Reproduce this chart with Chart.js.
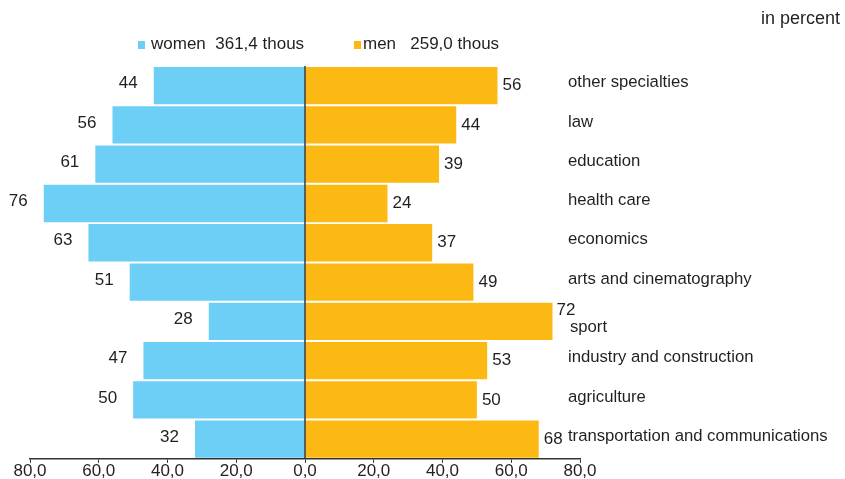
<!DOCTYPE html>
<html>
<head>
<meta charset="utf-8">
<script src="https://cdn.jsdelivr.net/npm/chart.js@4"></script>
<style>
  body { margin: 0; background: #fff; }
  #wrap { width: 845px; height: 479px; }
</style>
</head>
<body>
<div id="wrap"><canvas id="chart" width="845" height="479"></canvas></div>
<script>
// dados
const categories = ["other specialties", "law", "education", "health care", "economics",
  "arts and cinematography", "sport", "industry and construction", "agriculture",
  "transportation and communications"];
const women = [44, 56, 61, 76, 63, 51, 28, 47, 50, 32];
const men = [56, 44, 39, 24, 37, 49, 72, 53, 50, 68];
const legendLabels = ["women  361,4 thous", "men   259,0 thous"];
const unitLabel = "in percent";

const BLUE = "#6DCFF6";
const ORANGE = "#FDB913";
const TXT = "#231F20";
const FONT = "'Liberation Sans', Arial, sans-serif";

// labels, legenda e linha do zero
const extras = {
  id: "extras",
  afterDatasetsDraw(chart) {
    const { ctx, chartArea, scales: { x, y } } = chart;
    ctx.save();
    // linha do zero
    const x0 = x.getPixelForValue(0);
    ctx.strokeStyle = "#333";
    ctx.lineWidth = 1.5;
    ctx.beginPath();
    ctx.moveTo(x0, chartArea.top);
    ctx.lineTo(x0, chartArea.bottom);
    ctx.stroke();

    ctx.textBaseline = "middle";
    const xCat = x.getPixelForValue(76.5);
    categories.forEach((c, i) => {
      const yc = y.getPixelForValue(i);
      ctx.font = "17px " + FONT;
      ctx.fillStyle = TXT;
      ctx.textAlign = "right";
      ctx.fillText(String(women[i]), x.getPixelForValue(-women[i]) - 16, yc - 2);
      ctx.textAlign = "left";
      const xm = x.getPixelForValue(men[i]) + 5;
      const w = ctx.measureText(String(men[i])).width;
      // se o valor encosta no nome da categoria, sobe o valor e desce o nome
      const clash = xm + w > xCat - 2;
      ctx.fillText(String(men[i]), clash ? xm - 1 : xm, clash ? yc - 11 : yc);
      ctx.font = "16.7px " + FONT;
      ctx.fillText(c, clash ? xCat + 2 : xCat, clash ? yc + 6 : yc - 3);
    });

    // legenda
    ctx.font = "17px " + FONT;
    ctx.textAlign = "left";
    ctx.fillStyle = BLUE;
    ctx.fillRect(138, 41, 7, 8);
    ctx.fillStyle = ORANGE;
    ctx.fillRect(354, 41, 7, 8);
    ctx.fillStyle = TXT;
    ctx.fillText(legendLabels[0], 151, 44);
    ctx.fillText(legendLabels[1], 363, 44);
    ctx.textAlign = "right";
    ctx.font = "18px " + FONT;
    ctx.fillText(unitLabel, 840, 19);
    ctx.restore();
  }
};

new Chart(document.getElementById("chart"), {
  type: "bar",
  data: {
    labels: categories,
    datasets: [
      { label: "women", data: women.map(v => -v), backgroundColor: BLUE, barPercentage: 0.95, categoryPercentage: 1 },
      { label: "men", data: men, backgroundColor: ORANGE, barPercentage: 0.95, categoryPercentage: 1 }
    ]
  },
  options: {
    indexAxis: "y",
    responsive: false,
    animation: false,
    layout: { padding: { left: 30, right: 265, top: 66, bottom: 0 } },
    plugins: { legend: { display: false }, tooltip: { enabled: false } },
    scales: {
      x: {
        stacked: true,
        min: -80, max: 80,
        ticks: {
          stepSize: 20,
          color: TXT,
          font: { family: FONT, size: 17, lineHeight: 0.95 },
          padding: 0,
          maxRotation: 0,
          callback: v => Math.abs(v).toFixed(1).replace(".", ",")
        },
        grid: { drawOnChartArea: false, drawTicks: true, tickLength: 4, color: "#333" },
        border: { color: "#333", width: 1.5 }
      },
      y: {
        stacked: true,
        display: false
      }
    }
  },
  plugins: [extras]
});
</script>
</body>
</html>
